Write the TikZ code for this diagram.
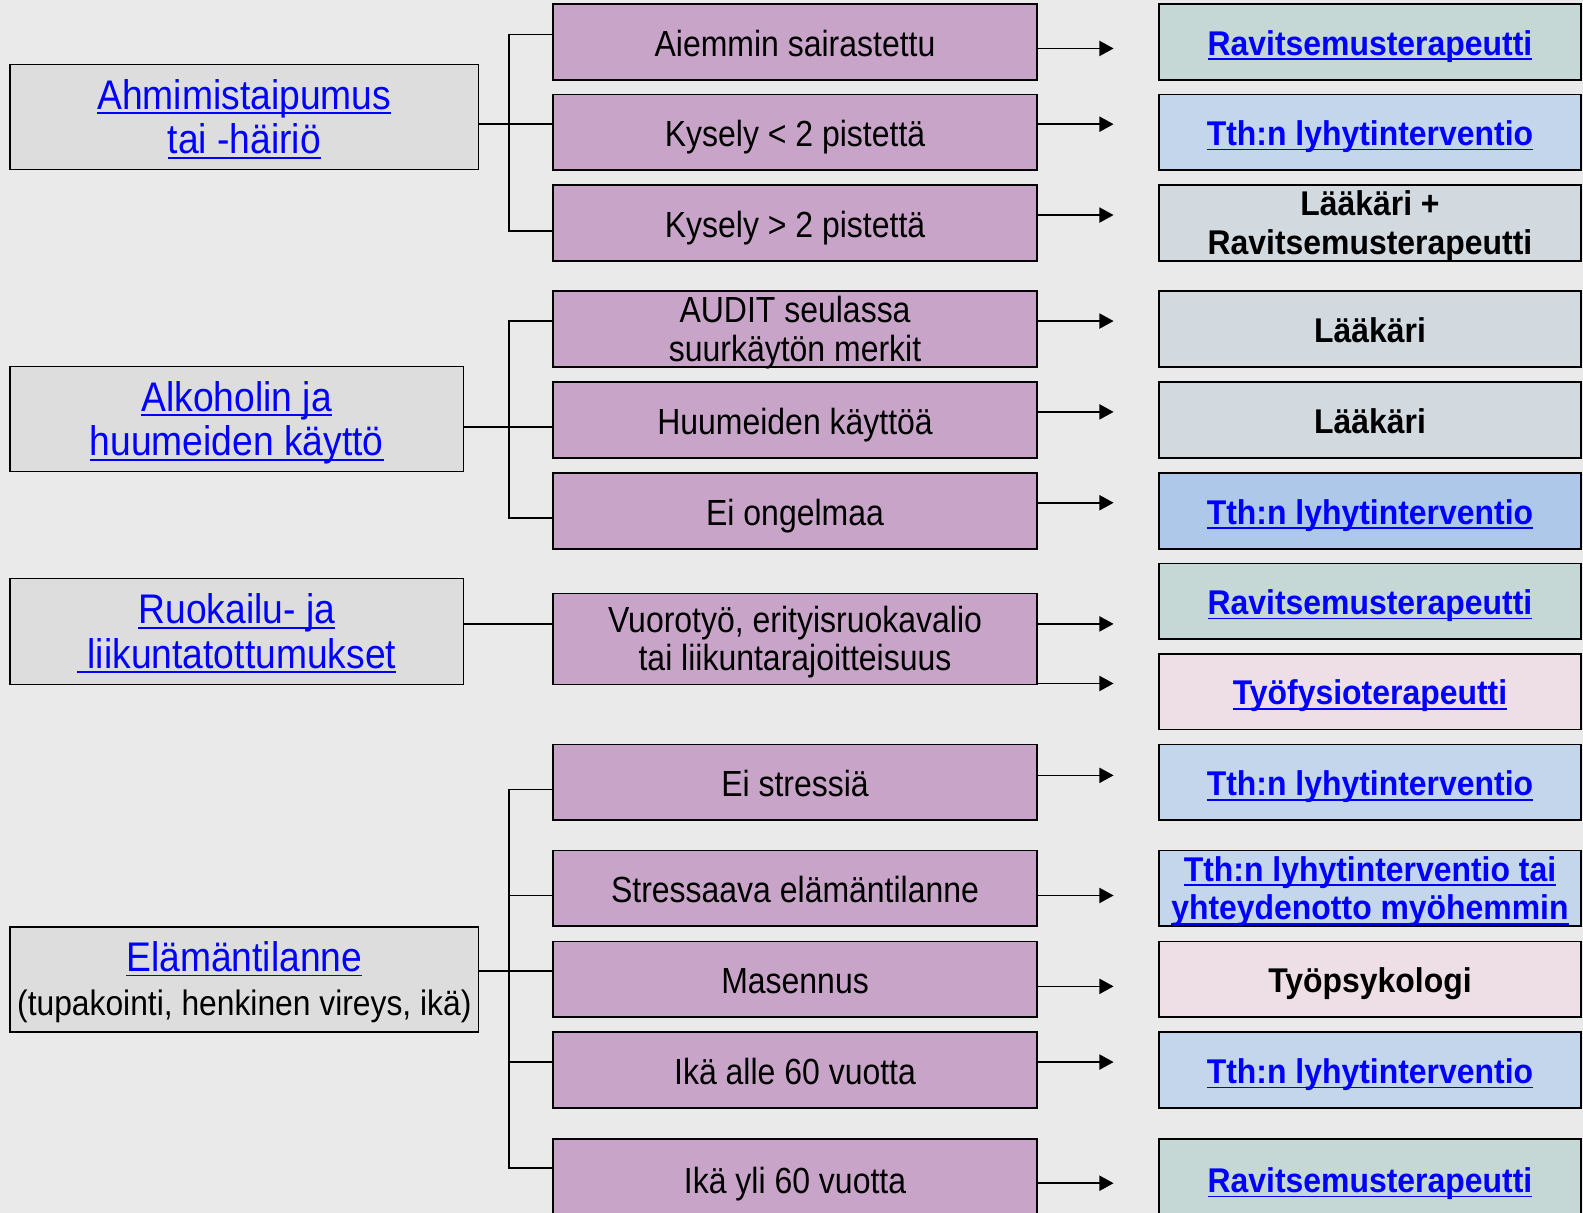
\documentclass[tikz,border=0pt]{standalone}
\usepackage{fontspec}
\setmainfont{Liberation Sans}[FakeStretch=0.88]
\newfontfamily\lfont{Liberation Sans}[FakeStretch=0.90]
\newfontfamily\rfont{Liberation Sans}[FakeStretch=0.93]
\usetikzlibrary{arrows.meta}
\definecolor{bggray}{HTML}{EAEAEA}
\definecolor{leftgray}{HTML}{DDDDDD}
\definecolor{midpurple}{HTML}{C8A5C8}
\definecolor{rgreen}{HTML}{C5D8D5}
\definecolor{rblue}{HTML}{C4D6EB}
\definecolor{rbluedark}{HTML}{ADC8E8}
\definecolor{rgray}{HTML}{D2D9DF}
\definecolor{rpink}{HTML}{EDDFE5}
\definecolor{linkblue}{HTML}{0000FF}
\newsavebox\lnkbox
\newcommand\lnk[1]{\sbox\lnkbox{\color{linkblue}#1}{\color{linkblue}\rlap{\usebox\lnkbox}\rule[-4.8pt]{\wd\lnkbox}{1.8pt}}}
\begin{document}
\begin{tikzpicture}[x=1pt,y=-1pt,
    txt/.style  = {inner sep=0pt,align=center,
                   execute at begin node={\rule{0pt}{1em}},
                   execute at end node={\rule[-0.22em]{0pt}{0pt}}},
    two/.style  = {inner ysep=-2.5pt,
                   execute at begin node={\rule{0pt}{\dimexpr0.92em+\baselineskip\relax}}},
    lbox/.style = {draw,line width=1.6pt,fill=leftgray,minimum height=104pt,txt,two,
                   font=\lfont\fontsize{41}{44}\selectfont},
    mbox/.style = {draw,line width=1.6pt,fill=midpurple,minimum width=479pt,
                   minimum height=75pt,txt,font=\fontsize{36}{38}\selectfont},
    rbox/.style = {draw,line width=1.6pt,minimum width=418pt,minimum height=75pt,
                   txt,font=\rfont\fontsize{34}{38.5}\selectfont\bfseries},
    link/.style = {line width=1.5pt},
    arr/.style  = {link,-{Triangle[length=14pt,width=15pt]}}]
    \useasboundingbox (0,0) rectangle (1568,1201);
    \fill[bggray] (0,0) rectangle (1568,1201);

    \node[lbox,minimum width=464pt] (A) at (242,116)
        {\lnk{Ahmimistaipumus}\\\lnk{tai -häiriö}};
    \node[lbox,minimum width=449pt] (B) at (234.5,415)
        {\lnk{Alkoholin ja}\\\lnk{huumeiden käyttö}};
    \node[lbox,minimum width=449pt,minimum height=105pt] (C) at (234.5,625.5)
        {\lnk{Ruokailu- ja}\\\lnk{~liikuntatottumukset}};
    \node[lbox,minimum width=464pt] (D) at (242,970)
        {\lnk{Elämäntilanne}\\{\fontsize{35}{40}\selectfont(tupakointi, henkinen vireys, ikä)}};

    \node[mbox] (m1) at (787.5,41.5) {Aiemmin sairastettu};
    \node[mbox] (m2) at (787.5,131) {Kysely < 2 pistettä};
    \node[mbox] (m3) at (787.5,221) {Kysely > 2 pistettä};
    \node[mbox,two] (m4) at (787.5,326) {AUDIT seulassa\\suurkäytön merkit};
    \node[mbox] (m5) at (787.5,416) {Huumeiden käyttöä};
    \node[mbox] (m6) at (787.5,506) {Ei ongelmaa};
    \node[mbox,two,minimum height=90pt] (m7) at (787.5,633)
        {Vuorotyö, erityisruokavalio\\tai liikuntarajoitteisuus};
    \node[mbox] (m8) at (787.5,775) {Ei stressiä};
    \node[mbox] (m9) at (787.5,880) {Stressaava elämäntilanne};
    \node[mbox] (m10) at (787.5,970) {Masennus};
    \node[mbox] (m11) at (787.5,1060) {Ikä alle 60 vuotta};
    \node[mbox,minimum height=80pt] (m12) at (787.5,1168) {Ikä yli 60 vuotta};

    \node[rbox,fill=rgreen] (r1) at (1357,41.5) {\lnk{Ravitsemusterapeutti}};
    \node[rbox,fill=rblue] (r2) at (1357,131) {\lnk{Tth:n lyhytinterventio}};
    \node[rbox,two,fill=rgray] (r3) at (1357,221) {Lääkäri +\\Ravitsemusterapeutti};
    \node[rbox,fill=rgray] (r4) at (1357,326) {Lääkäri};
    \node[rbox,fill=rgray] (r5) at (1357,416) {Lääkäri};
    \node[rbox,fill=rbluedark] (r6) at (1357,506) {\lnk{Tth:n lyhytinterventio}};
    \node[rbox,fill=rgreen] (r7) at (1357,595.5) {\lnk{Ravitsemusterapeutti}};
    \node[rbox,fill=rpink] (r8) at (1357,685) {\lnk{Työfysioterapeutti}};
    \node[rbox,fill=rblue] (r9) at (1357,775) {\lnk{Tth:n lyhytinterventio}};
    \node[rbox,two,fill=rblue] (r10) at (1357,880)
        {\lnk{Tth:n lyhytinterventio tai}\\\lnk{yhteydenotto myöhemmin}};
    \node[rbox,fill=rpink] (r11) at (1357,970) {Työpsykologi};
    \node[rbox,fill=rblue] (r12) at (1357,1060) {\lnk{Tth:n lyhytinterventio}};
    \node[rbox,fill=rgreen,minimum height=80pt] (r13) at (1357,1168) {\lnk{Ravitsemusterapeutti}};

    \coordinate (jA) at (504,123);
    \coordinate (jB) at (504,423);
    \coordinate (jD) at (504,962);
    \draw[link] ([yshift=7.5]m1.west) -| (jA) |- ([yshift=-8]m3.west);
    \draw[link] (A.east |- jA) -- (m2.west |- jA);
    \draw[link] ([yshift=8]m4.west) -| (jB) |- ([yshift=-7]m6.west);
    \draw[link] (B.east |- jB) -- (m5.west |- jB);
    \draw[link] ([yshift=7.5]C.east) -- ([yshift=15]m7.west);
    \draw[link] ([yshift=-7]m8.west) -| (jD) |- ([yshift=11]m12.west);
    \draw[link] ([yshift=-7]m9.west) -- +(-44,0);
    \draw[link] (D.east |- jD) -- (m10.west |- jD);
    \draw[link] ([yshift=8]m11.west) -- +(-44,0);

    \coordinate (t1) at (1103,48);
    \coordinate (t2) at (1103,123);
    \coordinate (t3) at (1103,213);
    \coordinate (t4) at (1103,318);
    \coordinate (t5) at (1103,408);
    \coordinate (t6) at (1103,498);
    \coordinate (t7) at (1103,618);
    \coordinate (t8) at (1103,677);
    \coordinate (t9) at (1103,768);
    \coordinate (t10) at (1103,887);
    \coordinate (t11) at (1103,977);
    \coordinate (t12) at (1103,1052);
    \coordinate (t13) at (1103,1172);
    \draw[arr] (m1.east |- t1) -- (t1);
    \draw[arr] (m2.east |- t2) -- (t2);
    \draw[arr] (m3.east |- t3) -- (t3);
    \draw[arr] (m4.east |- t4) -- (t4);
    \draw[arr] (m5.east |- t5) -- (t5);
    \draw[arr] (m6.east |- t6) -- (t6);
    \draw[arr] (m7.east |- t7) -- (t7);
    \draw[arr] (m7.east |- t8) -- (t8);
    \draw[arr] (m8.east |- t9) -- (t9);
    \draw[arr] (m9.east |- t10) -- (t10);
    \draw[arr] (m10.east |- t11) -- (t11);
    \draw[arr] (m11.east |- t12) -- (t12);
    \draw[arr] (m12.east |- t13) -- (t13);
\end{tikzpicture}
\end{document}
